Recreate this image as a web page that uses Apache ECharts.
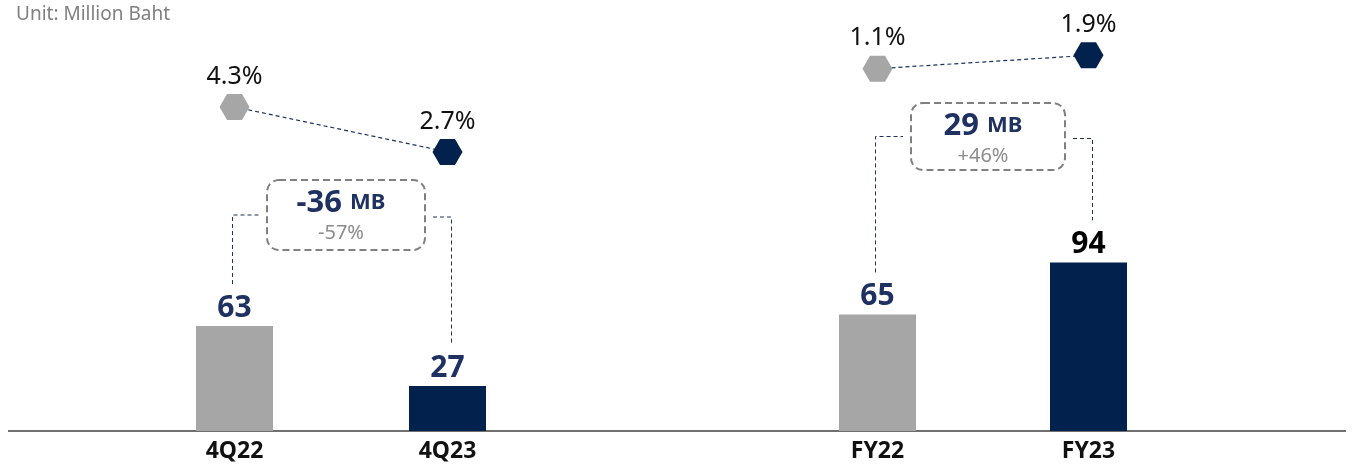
<!DOCTYPE html>
<html>
<head>
<meta charset="utf-8">
<script src="https://cdn.jsdelivr.net/npm/echarts@6/dist/echarts.min.js"></script>
<style>
  html, body { margin: 0; padding: 0; background: #fff; }
  #main { width: 1354px; height: 467px; }
</style>
</head>
<body>
<div id="main"></div>
<script>
// data
var quarterCats = ['4Q22', '4Q23'];
var quarterProfit = [63, 27];
var quarterMargin = [4.3, 2.7];
var yearCats = ['FY22', 'FY23'];
var yearProfit = [65, 94];
var yearMargin = [1.1, 1.9];
var changeMB = ['-36', '29'];
var changePct = ['-57%', '+46%'];

var GRAY = '#a6a6a6';
var NAVY = '#03214d';
var LABEL_NAVY = '#1f3160';
var FONT = 'Noto Sans';

var hexagon = 'path://M0,50 L25,6 L75,6 L100,50 L75,94 L25,94 Z';

function barData(vals, labelColors) {
    return vals.map(function (v, i) {
        return {
            value: v,
            itemStyle: { color: i === 0 ? GRAY : NAVY },
            label: { color: labelColors[i] }
        };
    });
}
function lineData(vals) {
    return vals.map(function (v, i) {
        return { value: v, itemStyle: { color: i === 0 ? GRAY : NAVY } };
    });
}

var barLabel = {
    show: true, position: 'top', distance: 3,
    fontFamily: FONT, fontWeight: 'bold', fontSize: 30
};
var lineLabel = {
    show: true, position: 'top', distance: 5,
    fontFamily: FONT, fontSize: 25, color: '#111',
    formatter: function (p) { return p.value + '%'; }
};
var catLabel = {
    fontFamily: FONT, fontWeight: 'bold', fontSize: 23, color: '#111', margin: 9
};

var chart = echarts.init(document.getElementById('main'));

var option = {
    animation: false,
    title: {
        text: 'Unit: Million Baht', left: 11, top: 0,
        textStyle: { fontFamily: FONT, fontSize: 19, fontWeight: 'normal', color: '#808080' }
    },
    grid: [
        { left: 128, width: 426, top: 181, bottom: 36 },
        { left: 772, width: 422, top: 162, bottom: 36 },
        { left: 128, width: 426, top: 59, height: 169 },
        { left: 772, width: 422, top: 37, height: 50 }
    ],
    xAxis: [
        { type: 'category', gridIndex: 0, data: quarterCats, axisLine: { show: false },
          axisTick: { show: false }, axisLabel: catLabel },
        { type: 'category', gridIndex: 1, data: yearCats, axisLine: { show: false },
          axisTick: { show: false }, axisLabel: catLabel },
        { type: 'category', gridIndex: 2, data: quarterCats, show: false },
        { type: 'category', gridIndex: 3, data: yearCats, show: false }
    ],
    yAxis: [
        { type: 'value', gridIndex: 0, min: 0, max: 150, show: false },
        { type: 'value', gridIndex: 1, min: 0, max: 150, show: false },
        { type: 'value', gridIndex: 2, min: 0, max: 6, show: false },
        { type: 'value', gridIndex: 3, min: 0, max: 3, show: false }
    ],
    series: [
        { type: 'bar', xAxisIndex: 0, yAxisIndex: 0, barWidth: 77, label: barLabel,
          data: barData(quarterProfit, [LABEL_NAVY, LABEL_NAVY]) },
        { type: 'bar', xAxisIndex: 1, yAxisIndex: 1, barWidth: 77, label: barLabel,
          data: barData(yearProfit, [LABEL_NAVY, '#000']) },
        { type: 'line', xAxisIndex: 2, yAxisIndex: 2, symbol: hexagon, symbolSize: [30, 26],
          lineStyle: { color: LABEL_NAVY, width: 1.2, type: [4, 3] }, label: lineLabel,
          data: lineData(quarterMargin) },
        { type: 'line', xAxisIndex: 3, yAxisIndex: 3, symbol: hexagon, symbolSize: [30, 26],
          lineStyle: { color: LABEL_NAVY, width: 1.2, type: [4, 3] }, label: lineLabel,
          data: lineData(yearMargin) }
    ]
};
chart.setOption(option);

// change boxes with dashed connectors, anchored on the bars
function bracket(seriesIndex, vals, idx, boxTop, boxH, boxW) {
    var p0 = chart.convertToPixel({ seriesIndex: seriesIndex }, [0, vals[0]]);
    var p1 = chart.convertToPixel({ seriesIndex: seriesIndex }, [1, vals[1]]);
    var mid = (p0[0] + p1[0]) / 2;
    var bx0 = mid + 5 - boxW / 2, bx1 = mid + 5 + boxW / 2;
    var cy = boxTop + boxH / 2;
    var dash = { stroke: LABEL_NAVY, lineWidth: 1, lineDash: [4, 3], fill: null };
    return [
        { type: 'rect', shape: { x: bx0, y: boxTop, width: boxW, height: boxH, r: 12 },
          style: { fill: null, stroke: '#808080', lineWidth: 2, lineDash: [7, 4] } },
        { type: 'polyline', shape: { points: [[p0[0] - 2, p0[1] - 42], [p0[0] - 2, cy], [bx0 - 8, cy]] },
          style: dash },
        { type: 'polyline', shape: { points: [[bx1 + 8, cy + 2], [p1[0] + 4, cy + 2], [p1[0] + 4, p1[1] - 42]] },
          style: dash },
        { type: 'text', x: mid, y: boxTop + 38,
          style: {
              text: '{a|' + changeMB[idx] + ' }{b|MB}\n{c|' + changePct[idx] + '}',
              align: 'center', verticalAlign: 'middle',
              rich: {
                  a: { fontFamily: FONT, fontWeight: 'bold', fontSize: 31, fill: LABEL_NAVY, lineHeight: 30 },
                  b: { fontFamily: FONT, fontWeight: 'bold', fontSize: 22, fill: LABEL_NAVY, lineHeight: 30 },
                  c: { fontFamily: FONT, fontSize: 20, fill: '#8c8c8c', lineHeight: 30 }
              }
          } }
    ];
}

var base = chart.convertToPixel({ seriesIndex: 0 }, [0, 0]);
var elements = [
    { type: 'line', shape: { x1: 8, y1: base[1], x2: 1346, y2: base[1] },
      style: { stroke: '#404040', lineWidth: 1.5 } }
];
elements = elements.concat(bracket(0, quarterProfit, 0, 180, 70, 158));
elements = elements.concat(bracket(1, yearProfit, 1, 103, 67, 154));
chart.setOption({ graphic: elements });
</script>
</body>
</html>
